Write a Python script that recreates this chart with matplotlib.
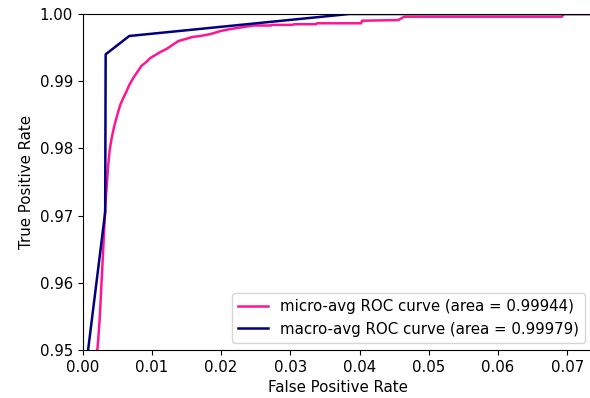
import matplotlib
matplotlib.use("Agg")
import matplotlib.pyplot as plt

# micro-average ROC
micro_fpr = [0.00210, 0.00225, 0.00246, 0.00261, 0.00275, 0.00290, 0.00304, 0.00319,
             0.00333, 0.00355, 0.00370, 0.00391, 0.00420, 0.00457, 0.00500, 0.00543,
             0.00587, 0.00630, 0.00674, 0.00732, 0.00790, 0.00848, 0.00920, 0.00978,
             0.01051, 0.01123, 0.01210, 0.01297, 0.01384, 0.01486, 0.01587, 0.01703,
             0.01848, 0.01993, 0.02138, 0.02326, 0.02471, 0.02717, 0.02730, 0.03036,
             0.03050, 0.03370, 0.03385, 0.04022, 0.04035, 0.04558, 0.04645, 0.06920,
             0.06949, 0.08]
micro_tpr = [0.94970, 0.95149, 0.95446, 0.95744, 0.96042, 0.96339, 0.96637, 0.96935,
             0.97232, 0.97530, 0.97753, 0.97976, 0.98155, 0.98333, 0.98497, 0.98646,
             0.98750, 0.98839, 0.98943, 0.99048, 0.99137, 0.99226, 0.99286, 0.99345,
             0.99390, 0.99435, 0.99479, 0.99539, 0.99598, 0.99628, 0.99658, 0.99673,
             0.99702, 0.99747, 0.99777, 0.99807, 0.99829, 0.99829, 0.99838, 0.99838,
             0.99848, 0.99848, 0.99862, 0.99862, 0.99900, 0.99910, 0.99960, 0.99960,
             1.0, 1.0]

# macro-average ROC
macro_fpr = [0.0, 0.00326, 0.00333, 0.00674, 0.0385, 0.08]
macro_tpr = [0.9434, 0.9705, 0.9940, 0.99673, 1.0, 1.0]

micro_auc = 0.99944
macro_auc = 0.99979

plt.rcParams['font.size'] = 10.8

fig = plt.figure(figsize=(5.9, 3.98), dpi=100)
ax = fig.add_axes([0.14, 0.1206, 0.865, 0.8442])

ax.plot(micro_fpr, micro_tpr, color='deeppink', lw=1.8,
        label='micro-avg ROC curve (area = {0:0.5f})'.format(micro_auc))
ax.plot(macro_fpr, macro_tpr, color='navy', lw=1.8,
        label='macro-avg ROC curve (area = {0:0.5f})'.format(macro_auc))

ax.set_xlim(0.0, 0.0737)
ax.set_ylim(0.95, 1.0)
ax.set_xticks([0.0, 0.01, 0.02, 0.03, 0.04, 0.05, 0.06, 0.07])
ax.set_yticks([0.95, 0.96, 0.97, 0.98, 0.99, 1.0])
ax.spines['right'].set_visible(False)
ax.set_xlabel('False Positive Rate')
ax.set_ylabel('True Positive Rate')
ax.legend(loc='lower right')

fig.savefig('out.png', dpi=100)
